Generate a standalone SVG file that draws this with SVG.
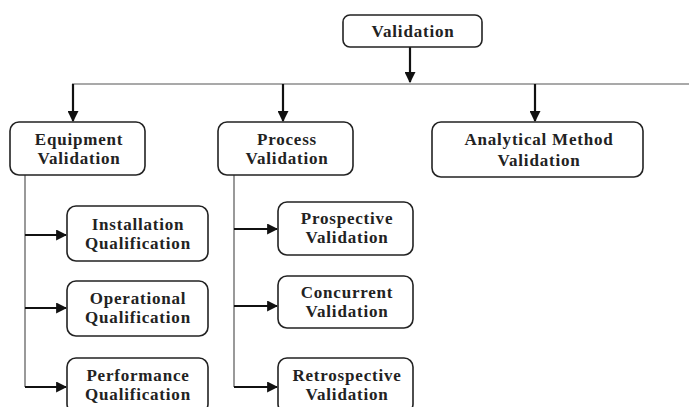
<svg xmlns="http://www.w3.org/2000/svg" width="689" height="407" viewBox="0 0 689 407">
<style>
.box{fill:#fff;stroke:#222;stroke-width:1.6}
.t{font-family:"Liberation Serif","Times New Roman",serif;font-weight:bold;font-size:17px;fill:#222;text-anchor:middle;letter-spacing:0.8px}
.bus{stroke:#555;stroke-width:1.2;fill:none}
.arr{stroke:#111;stroke-width:2.2;fill:none}
</style>
<defs>
<marker id="ah" viewBox="0 0 10 10" refX="9" refY="5" markerWidth="5" markerHeight="5" orient="auto" markerUnits="strokeWidth">
<path d="M0,0 L10,5 L0,10 z" fill="#111"/>
</marker>
</defs>
<rect width="689" height="407" fill="#fff"/>
<g id="connectors">
<path class="bus" d="M72,84 H689"/>
<path class="bus" d="M25,175 V387"/>
<path class="bus" d="M234,175 V387"/>
<path class="arr" d="M410,47 V82" marker-end="url(#ah)"/>
<path class="arr" d="M73,84 V121" marker-end="url(#ah)"/>
<path class="arr" d="M283,84 V121" marker-end="url(#ah)"/>
<path class="arr" d="M535,84 V121" marker-end="url(#ah)"/>
<path class="arr" d="M25,235 H66" marker-end="url(#ah)"/>
<path class="arr" d="M25,308 H66" marker-end="url(#ah)"/>
<path class="arr" d="M25,387 H66" marker-end="url(#ah)"/>
<path class="arr" d="M234,229 H277" marker-end="url(#ah)"/>
<path class="arr" d="M234,306 H277" marker-end="url(#ah)"/>
<path class="arr" d="M234,387 H277" marker-end="url(#ah)"/>
</g>
<g id="validation">
<rect class="box" x="343" y="15" width="139" height="32" rx="7"/>
<text class="t" x="413" y="37">Validation</text>
</g>
<g id="equipment">
<rect class="box" x="10" y="122" width="135" height="53" rx="9"/>
<text class="t" x="79" y="145">Equipment</text>
<text class="t" x="79" y="164">Validation</text>
</g>
<g id="process">
<rect class="box" x="218" y="122" width="135" height="53" rx="9"/>
<text class="t" x="287" y="145">Process</text>
<text class="t" x="287" y="164">Validation</text>
</g>
<g id="analytical">
<rect class="box" x="432" y="122" width="211" height="55" rx="9"/>
<text class="t" x="539" y="145">Analytical Method</text>
<text class="t" x="539" y="166">Validation</text>
</g>
<g id="installation">
<rect class="box" x="67" y="206" width="141" height="55" rx="9"/>
<text class="t" x="138" y="230">Installation</text>
<text class="t" x="138" y="249">Qualification</text>
</g>
<g id="operational">
<rect class="box" x="67" y="281" width="141" height="55" rx="9"/>
<text class="t" x="138" y="304">Operational</text>
<text class="t" x="138" y="323">Qualification</text>
</g>
<g id="performance">
<rect class="box" x="67" y="358" width="141" height="55" rx="9"/>
<text class="t" x="138" y="381">Performance</text>
<text class="t" x="138" y="400">Qualification</text>
</g>
<g id="prospective">
<rect class="box" x="278" y="202" width="135" height="53" rx="9"/>
<text class="t" x="347" y="224">Prospective</text>
<text class="t" x="347" y="243">Validation</text>
</g>
<g id="concurrent">
<rect class="box" x="278" y="276" width="135" height="52" rx="9"/>
<text class="t" x="347" y="298">Concurrent</text>
<text class="t" x="347" y="317">Validation</text>
</g>
<g id="retrospective">
<rect class="box" x="278" y="358" width="135" height="55" rx="9"/>
<text class="t" x="347" y="381">Retrospective</text>
<text class="t" x="347" y="400">Validation</text>
</g>
</svg>
